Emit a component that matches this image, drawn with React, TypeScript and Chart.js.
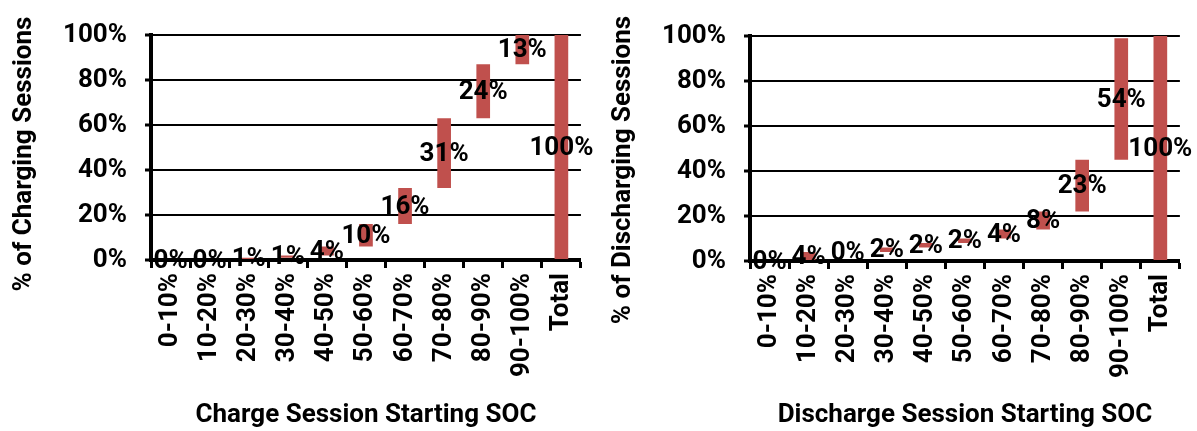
import React, { useEffect, useRef } from "react";
import { Chart, registerables } from "chart.js";

Chart.register(...registerables);

// Starting state-of-charge bands plus the closing total column
const socBands = ["0-10%", "10-20%", "20-30%", "30-40%", "40-50%", "50-60%", "60-70%", "70-80%", "80-90%", "90-100%", "Total"];

// Share of sessions (%) starting in each band
const chargeShares = [0, 0, 1, 1, 4, 10, 16, 31, 24, 13];
const dischargeShares = [0, 4, 0, 2, 2, 2, 4, 8, 23, 54];
const totalShare = 100;

// Value axis ticks (%)
const percentTicks = [0, 20, 40, 60, 80, 100];

const FONT_FAMILY = "Roboto";
const FONT_SIZE = 26;
const BAR_RED = "#C0504D";

// Floating [start, end] spans for a waterfall: each band stacks on the previous ones
function waterfallSpans(steps: number[], total: number): [number, number][] {
  let running = 0;
  const spans: [number, number][] = steps.map((v) => {
    const span: [number, number] = [running, running + v];
    running += v;
    return span;
  });
  spans.push([0, total]);
  return spans;
}

// Draws each column's share, centred on the column
const valueLabels = {
  id: "valueLabels",
  afterDatasetsDraw(chart: any, _args: any, opts: any) {
    const { ctx } = chart;
    const meta = chart.getDatasetMeta(0);
    const values: number[] = opts.values || [];
    ctx.save();
    ctx.font = `bold ${opts.size}px ${FONT_FAMILY}`;
    ctx.fillStyle = "#000";
    ctx.textAlign = "center";
    ctx.textBaseline = "middle";
    meta.data.forEach((bar: any, i: number) => {
      const { x, y, base } = bar.getProps(["x", "y", "base"], true);
      ctx.fillText(`${values[i]}%`, x, (y + base) / 2 + 1);
    });
    ctx.restore();
  },
};

// Rotated value-axis caption at a fixed spot left of the tick labels
const sideTitle = {
  id: "sideTitle",
  afterDraw(chart: any, _args: any, opts: any) {
    const { ctx } = chart;
    ctx.save();
    ctx.font = `bold ${opts.size}px ${FONT_FAMILY}`;
    ctx.fillStyle = "#000";
    ctx.textAlign = "center";
    ctx.textBaseline = "middle";
    ctx.translate(opts.x, opts.y);
    ctx.rotate(-Math.PI / 2);
    ctx.fillText(opts.text, 0, 0);
    ctx.restore();
  },
};

type PanelProps = {
  shares: number[];
  yTitle: string;
  xTitle: string;
  width: number;
  height: number;
  areaLeft: number;
  areaRight: number;
  areaTop: number;
  areaBottom: number;
  titleX: number;
  titleY: number;
};

function WaterfallPanel(props: PanelProps) {
  const ref = useRef<HTMLCanvasElement | null>(null);

  useEffect(() => {
    if (!ref.current) return;
    const { shares, yTitle, xTitle, width, height, areaLeft, areaRight, areaTop, areaBottom, titleX, titleY } = props;
    const spans = waterfallSpans(shares, totalShare);
    const labelValues = [...shares, totalShare];
    const textFont = { family: FONT_FAMILY, size: FONT_SIZE, weight: "bold" as const };

    const chart = new Chart(ref.current, {
      type: "bar",
      data: {
        labels: socBands,
        datasets: [
          {
            data: spans as any,
            backgroundColor: BAR_RED,
            borderWidth: 0,
            borderSkipped: false,
            barPercentage: 0.35,
            categoryPercentage: 1,
          },
        ],
      },
      options: {
        responsive: false,
        animation: false,
        events: [],
        layout: { padding: { left: 0, right: width - areaRight, top: areaTop, bottom: 0 } },
        plugins: {
          legend: { display: false },
          tooltip: { enabled: false },
          valueLabels: { values: labelValues, size: FONT_SIZE },
          sideTitle: { text: yTitle, x: titleX, y: titleY, size: FONT_SIZE },
        } as any,
        scales: {
          x: {
            type: "category",
            offset: true,
            grid: {
              display: true,
              offset: true,
              drawOnChartArea: false,
              drawTicks: true,
              tickLength: 8,
              tickWidth: 3,
              tickColor: "#000",
              color: "#000",
            },
            border: { display: true, color: "#000", width: 4 },
            ticks: {
              color: "#000",
              font: textFont,
              minRotation: 90,
              maxRotation: 90,
              autoSkip: false,
              padding: 5,
            },
            title: {
              display: true,
              text: xTitle,
              color: "#000",
              font: textFont,
              padding: { top: 0, bottom: 0 },
            },
            afterFit: (scale: any) => {
              scale.height = height - areaBottom;
            },
          },
          y: {
            min: 0,
            max: 100,
            afterBuildTicks: (scale: any) => {
              scale.ticks = percentTicks.map((v) => ({ value: v }));
            },
            grid: {
              color: "#000",
              lineWidth: 2,
              drawTicks: true,
              tickLength: 6,
              tickWidth: 3,
              tickColor: "#000",
            },
            border: { display: true, color: "#000", width: 4 },
            ticks: {
              color: "#000",
              font: textFont,
              padding: 18,
              callback: (v: any) => `${v}%`,
            },
            afterFit: (scale: any) => {
              scale.width = areaLeft;
            },
          },
        },
      },
      plugins: [valueLabels, sideTitle],
    });

    return () => chart.destroy();
  }, []);

  return <canvas ref={ref} width={props.width} height={props.height} style={{ display: "block" }} />;
}

export default function App() {
  return (
    <div style={{ position: "absolute", left: 0, top: 0, width: 1197, height: 431, background: "#fff", display: "flex" }}>
      <WaterfallPanel
        shares={chargeShares}
        yTitle="% of Charging Sessions"
        xTitle="Charge Session Starting SOC"
        width={598}
        height={431}
        areaLeft={151}
        areaRight={589}
        areaTop={35}
        areaBottom={260}
        titleX={24}
        titleY={154}
      />
      <WaterfallPanel
        shares={dischargeShares}
        yTitle="% of Discharging Sessions"
        xTitle="Discharge Session Starting SOC"
        width={599}
        height={431}
        areaLeft={152}
        areaRight={589}
        areaTop={36}
        areaBottom={261}
        titleX={25}
        titleY={170}
      />
    </div>
  );
}
